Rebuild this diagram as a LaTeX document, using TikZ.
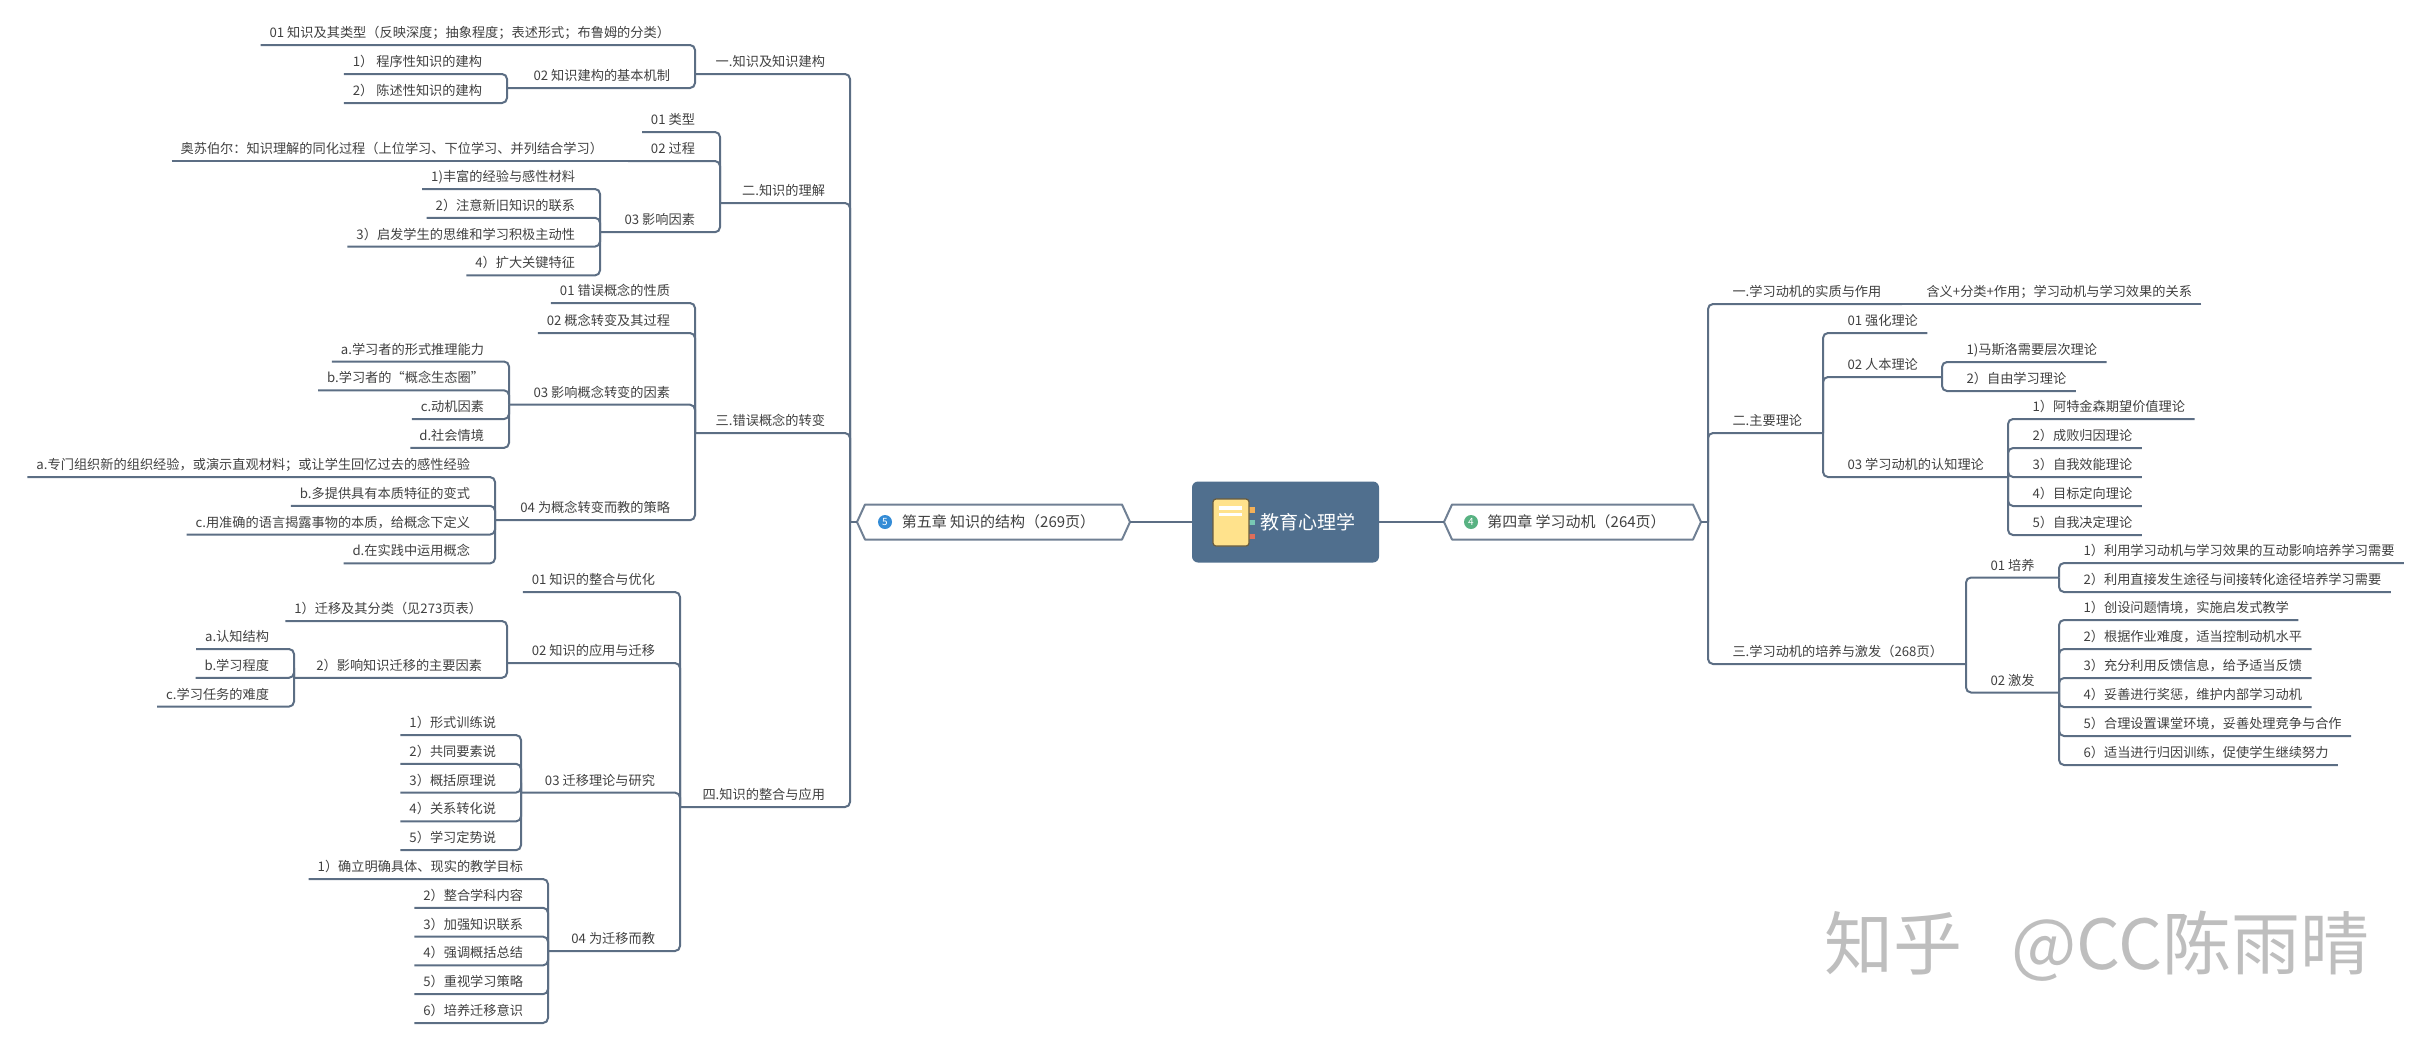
\documentclass[tikz,border=0pt]{standalone}
\usepackage{fontspec}
\newfontfamily\cjk{Noto Sans CJK SC}
\definecolor{linec}{RGB}{92,110,132}
\definecolor{txt}{RGB}{64,64,64}
\definecolor{hexc}{RGB}{112,128,148}
\definecolor{rootc}{RGB}{80,111,142}
\definecolor{num5}{RGB}{52,140,214}
\definecolor{num4}{RGB}{88,178,130}
\definecolor{booky}{RGB}{255,226,140}
\definecolor{bookl}{RGB}{105,92,62}
\definecolor{tabo}{RGB}{242,176,88}
\definecolor{tabg}{RGB}{120,200,180}
\definecolor{tabr}{RGB}{222,110,90}
\definecolor{wmc}{RGB}{190,190,190}

\begin{document}
\begin{tikzpicture}[x=1pt, y=-1pt,
    link/.style={draw=linec, line width=2pt, rounded corners=5pt},
    topic/.style={font=\cjk\fontsize{13.2}{15}\selectfont, text=txt, text depth=0pt,
      inner xsep=9pt, inner ysep=7.5pt, outer sep=0pt},
    tl/.style={topic, anchor=south east},
    tr/.style={topic, anchor=south west, inner xsep=9.5pt},
    chap/.style={font=\cjk\fontsize{15}{17}\selectfont, text=txt, minimum height=35pt,
      inner sep=0pt, outer sep=0pt},
    hexline/.style={draw=hexc, line width=2pt, line join=round},
    numdot/.style={circle, inner sep=0pt, minimum size=14pt, text=white,
      font=\cjk\fontsize{10}{10}\selectfont},
    root/.style={fill=rootc, rounded corners=6pt, minimum width=187pt, minimum height=81pt,
      inner sep=0pt, outer sep=0pt, text=white, font=\cjk\fontsize{19}{21}\selectfont},
    wmark/.style={text=wmc, font=\cjk\fontsize{69}{71}\selectfont}]
  \useasboundingbox (0,0) rectangle (2427,1045);

  % centre and chapters
  \node[root] (root) at (1285.5,522) {\hspace*{44pt}教育心理学};
  \node[chap, minimum width=273pt] (ch5) at (993.5,522) {\hspace*{10pt}第五章 知识的结构（269页）};
  \node[chap, minimum width=257pt] (ch4) at (1572.5,522) {\hspace*{8pt}第四章 学习动机（264页）};
  \draw[hexline] (ch5.west) -- ([xshift=8pt]ch5.north west) -- ([xshift=-8pt]ch5.north east)
    -- (ch5.east) -- ([xshift=-8pt]ch5.south east) -- ([xshift=8pt]ch5.south west) -- cycle;
  \draw[hexline] (ch4.west) -- ([xshift=8pt]ch4.north west) -- ([xshift=-8pt]ch4.north east)
    -- (ch4.east) -- ([xshift=-8pt]ch4.south east) -- ([xshift=8pt]ch4.south west) -- cycle;
  \node[numdot, fill=num5] (n5) at ([xshift=28pt]ch5.west) {5};
  \node[numdot, fill=num4] (n4) at ([xshift=27pt]ch4.west) {4};

  % book icon
  \fill[tabo] (1247,507) rectangle (1255,512.5);
  \fill[tabg] (1247,520) rectangle (1255,525);
  \fill[tabr] (1247,534) rectangle (1255,539);
  \draw[bookl, fill=booky, line width=1.2pt, rounded corners=3pt] (1213,499) rectangle (1249,546);
  \fill[white] (1219,506) rectangle (1242,509.5);
  \fill[white] (1219,512.5) rectangle (1242,515.5);

  \coordinate (Lsp) at (850,522);
  \coordinate (Rsp) at (1708,522);
  \draw[link] (Lsp) -- (ch5.west);
  \draw[link] (ch5.east) -- (root.west);
  \draw[link] (root.east) -- (ch4.west);
  \draw[link] (ch4.east) -- (Rsp);

  % chapter 5
  \node[tl] (L1) at (834,74) {一.知识及知识建构};
  \coordinate (L1b) at (695,74);
  \node[tl] (L1-1) at (679,45) {01 知识及其类型（反映深度；抽象程度；表述形式；布鲁姆的分类）};
  \node[tl] (L1-2) at (679,88) {02 知识建构的基本机制};
  \coordinate (L1-2b) at (507,88);
  \foreach \t [count=\i] in {{1） 程序性知识的建构},{2） 陈述性知识的建构}}
    \node[tl] (L1-2-\i) at (491,45+29*\i) {\t};

  \node[tl] (L2) at (834,203) {二.知识的理解};
  \coordinate (L2b) at (720,203);
  \node[tl] (L2-1) at (704,132) {01 类型};
  \node[tl] (L2-2) at (704,161) {02 过程};
  \coordinate (L2-2b) at (628,161);
  \node[tl] (L2-2-1) at (612,161) {奥苏伯尔：知识理解的同化过程（上位学习、下位学习、并列结合学习）};
  \node[tl] (L2-3) at (704,232.2) {03 影响因素};
  \coordinate (L2-3b) at (600,232.2);
  \foreach \t [count=\i] in {{1)丰富的经验与感性材料},{2）注意新旧知识的联系},
      {3）启发学生的思维和学习积极主动性},{4）扩大关键特征}}
    \node[tl] (L2-3-\i) at (584,160.2+28.8*\i) {\t};

  \node[tl] (L3) at (834,433) {三.错误概念的转变};
  \coordinate (L3b) at (695,433);
  \node[tl] (L3-1) at (679,303) {01 错误概念的性质};
  \node[tl] (L3-2) at (679,333) {02 概念转变及其过程};
  \node[tl] (L3-3) at (679,404.7) {03 影响概念转变的因素};
  \coordinate (L3-3b) at (509,404.7);
  \foreach \t [count=\i] in {{a.学习者的形式推理能力},{b.学习者的“概念生态圈”},{c.动机因素},{d.社会情境}}
    \node[tl] (L3-3-\i) at (493,332.7+28.8*\i) {\t};
  \node[tl] (L3-4) at (679,520.2) {04 为概念转变而教的策略};
  \coordinate (L3-4b) at (495,520.2);
  \foreach \t [count=\i] in {{a.专门组织新的组织经验，或演示直观材料；或让学生回忆过去的感性经验},
      {b.多提供具有本质特征的变式},{c.用准确的语言揭露事物的本质，给概念下定义},{d.在实践中运用概念}}
    \node[tl] (L3-4-\i) at (479,448.2+28.8*\i) {\t};

  \node[tl] (L4) at (834,807) {四.知识的整合与应用};
  \coordinate (L4b) at (680,807);
  \node[tl] (L4-1) at (664,592) {01 知识的整合与优化};
  \node[tl] (L4-2) at (664,663) {02 知识的应用与迁移};
  \coordinate (L4-2b) at (507,663);
  \node[tl] (L4-2-1) at (491,621) {1）迁移及其分类（见273页表）};
  \node[tl] (L4-2-2) at (491,677.8) {2）影响知识迁移的主要因素};
  \coordinate (L4-2-2b) at (294,677.8);
  \foreach \t [count=\i] in {{a.认知结构},{b.学习程度},{c.学习任务的难度}}
    \node[tl] (L4-2-2-\i) at (278,620.2+28.8*\i) {\t};
  \node[tl] (L4-3) at (664,792.6) {03 迁移理论与研究};
  \coordinate (L4-3b) at (521,792.6);
  \foreach \t [count=\i] in {{1）形式训练说},{2）共同要素说},{3）概括原理说},{4）关系转化说},{5）学习定势说}}
    \node[tl] (L4-3-\i) at (505,706.2+28.8*\i) {\t};
  \node[tl] (L4-4) at (664,951) {04 为迁移而教};
  \coordinate (L4-4b) at (548,951);
  \foreach \t [count=\i] in {{1）确立明确具体、现实的教学目标},{2）整合学科内容},{3）加强知识联系},
      {4）强调概括总结},{5）重视学习策略},{6）培养迁移意识}}
    \node[tl] (L4-4-\i) at (532,850.2+28.8*\i) {\t};

  \foreach \n in {L1,L2,L3,L4}
    \draw[link] (\n b) -- (\n b -| Lsp) -- (Lsp);
  \foreach \s in {L1-1.south west, L1-2b}
    \draw[link] (\s) -- (\s -| L1b) -- (L1b);
  \foreach \i in {1,2}
    \draw[link] (L1-2-\i.south west) -- (L1-2-\i.south west -| L1-2b) -- (L1-2b);
  \foreach \s in {L2-1.south west, L2-2b, L2-3b}
    \draw[link] (\s) -- (\s -| L2b) -- (L2b);
  \draw[link] (L2-2-1.south west) -- (L2-2b);
  \foreach \i in {1,...,4}
    \draw[link] (L2-3-\i.south west) -- (L2-3-\i.south west -| L2-3b) -- (L2-3b);
  \foreach \s in {L3-1.south west, L3-2.south west, L3-3b, L3-4b}
    \draw[link] (\s) -- (\s -| L3b) -- (L3b);
  \foreach \i in {1,...,4} {
    \draw[link] (L3-3-\i.south west) -- (L3-3-\i.south west -| L3-3b) -- (L3-3b);
    \draw[link] (L3-4-\i.south west) -- (L3-4-\i.south west -| L3-4b) -- (L3-4b);
  }
  \foreach \s in {L4-1.south west, L4-2b, L4-3b, L4-4b}
    \draw[link] (\s) -- (\s -| L4b) -- (L4b);
  \foreach \s in {L4-2-1.south west, L4-2-2b}
    \draw[link] (\s) -- (\s -| L4-2b) -- (L4-2b);
  \foreach \i in {1,2,3}
    \draw[link] (L4-2-2-\i.south west) -- (L4-2-2-\i.south west -| L4-2-2b) -- (L4-2-2b);
  \foreach \i in {1,...,5}
    \draw[link] (L4-3-\i.south west) -- (L4-3-\i.south west -| L4-3b) -- (L4-3b);
  \foreach \i in {1,...,6}
    \draw[link] (L4-4-\i.south west) -- (L4-4-\i.south west -| L4-4b) -- (L4-4b);

  % chapter 4
  \node[tr] (R1) at (1723,304) {一.学习动机的实质与作用};
  \coordinate (R1b) at (1902,304);
  \node[tr] (R1-1) at (1917,304) {含义+分类+作用；学习动机与学习效果的关系};
  \node[tr] (R2) at (1723,433) {二.主要理论};
  \coordinate (R2b) at (1823,433);
  \node[tr] (R2-1) at (1838,333) {01 强化理论};
  \node[tr] (R2-2) at (1838,377) {02 人本理论};
  \coordinate (R2-2b) at (1942,377);
  \foreach \t [count=\i] in {{1)马斯洛需要层次理论},{2）自由学习理论}}
    \node[tr] (R2-2-\i) at (1957,333+29*\i) {\t};
  \node[tr] (R2-3) at (1838,477) {03 学习动机的认知理论};
  \coordinate (R2-3b) at (2008,477);
  \foreach \t [count=\i] in {{1）阿特金森期望价值理论},{2）成败归因理论},{3）自我效能理论},
      {4）目标定向理论},{5）自我决定理论}}
    \node[tr] (R2-3-\i) at (2023,390+29*\i) {\t};
  \node[tr] (R3) at (1723,664) {三.学习动机的培养与激发（268页）};
  \coordinate (R3b) at (1966,664);
  \node[tr] (R3-1) at (1981,577.5) {01 培养};
  \coordinate (R3-1b) at (2059,577.5);
  \foreach \t [count=\i] in {{1）利用学习动机与学习效果的互动影响培养学习需要},
      {2）利用直接发生途径与间接转化途径培养学习需要}}
    \node[tr] (R3-1-\i) at (2074,534+29*\i) {\t};
  \node[tr] (R3-2) at (1981,692.5) {02 激发};
  \coordinate (R3-2b) at (2059,692.5);
  \foreach \t [count=\i] in {{1）创设问题情境，实施启发式教学},{2）根据作业难度，适当控制动机水平},
      {3）充分利用反馈信息，给予适当反馈},{4）妥善进行奖惩，维护内部学习动机},
      {5）合理设置课堂环境，妥善处理竞争与合作},{6）适当进行归因训练，促使学生继续努力}}
    \node[tr] (R3-2-\i) at (2074,591+29*\i) {\t};

  \foreach \n in {R1,R2,R3}
    \draw[link] (\n b) -- (\n b -| Rsp) -- (Rsp);
  \draw[link] (R1-1.south east) -- (R1b);
  \foreach \s in {R2-1.south east, R2-2b, R2-3b}
    \draw[link] (\s) -- (\s -| R2b) -- (R2b);
  \foreach \i in {1,2}
    \draw[link] (R2-2-\i.south east) -- (R2-2-\i.south east -| R2-2b) -- (R2-2b);
  \foreach \i in {1,...,5}
    \draw[link] (R2-3-\i.south east) -- (R2-3-\i.south east -| R2-3b) -- (R2-3b);
  \foreach \s in {R3-1b, R3-2b}
    \draw[link] (\s) -- (\s -| R3b) -- (R3b);
  \foreach \i in {1,2}
    \draw[link] (R3-1-\i.south east) -- (R3-1-\i.south east -| R3-1b) -- (R3-1b);
  \foreach \i in {1,...,6}
    \draw[link] (R3-2-\i.south east) -- (R3-2-\i.south east -| R3-2b) -- (R3-2b);

  \node[wmark] (wm) at (2097,946) {知乎\hspace{0.7em}@CC陈雨晴};
\end{tikzpicture}
\end{document}
